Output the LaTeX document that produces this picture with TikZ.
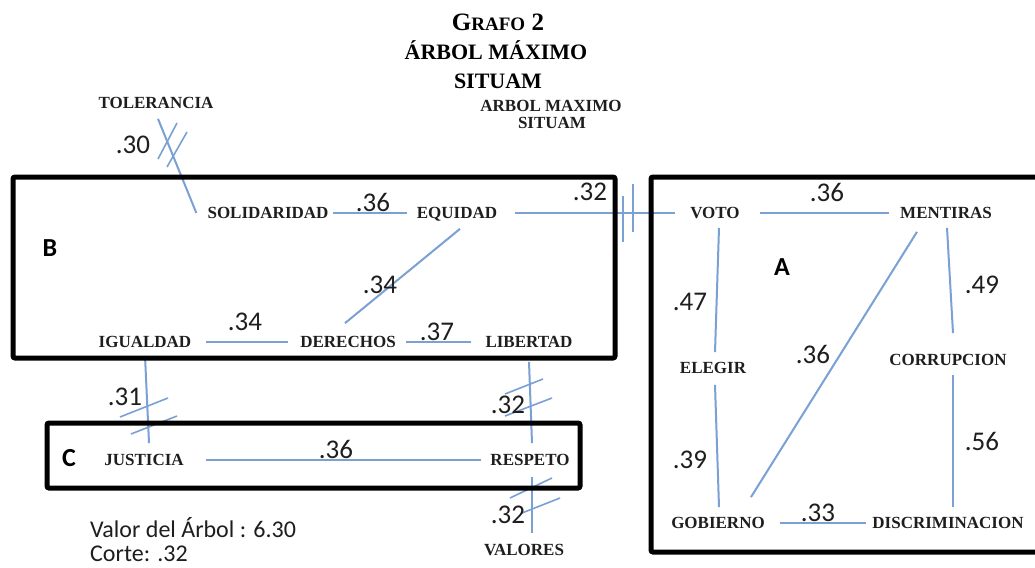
\documentclass[tikz,border=0pt]{standalone}
\usepackage{fontspec}
\setmainfont{Liberation Serif}
\newfontfamily\numfont{Carlito}
\usetikzlibrary{calc}
\definecolor{edgeblue}{RGB}{122,160,212}
\definecolor{inkgray}{RGB}{30,30,30}
\tikzset{
  lbl/.style={font=\bfseries\fontsize{17}{17}\selectfont, inner sep=0pt, text height=11.3pt, text depth=0pt, text=inkgray},
  wt/.style={font=\numfont\fontsize{27}{27}\selectfont, inner sep=0pt, text height=17pt, text depth=0pt, text=inkgray},
  grp/.style={font=\numfont\bfseries\fontsize{26}{26}\selectfont, inner sep=0pt, text height=16.7pt, text depth=0pt},
  note/.style={font=\numfont\fontsize{24}{24}\selectfont, inner sep=0pt, anchor=base west, text=inkgray},
  ttl/.style={font=\bfseries\fontsize{22}{22}\selectfont, inner sep=0pt, text height=14.6pt, text depth=0pt},
  link/.style={draw=edgeblue, line width=2pt},
  hashmark/.style={draw=edgeblue, line width=1.6pt},
  frame/.style={draw=black, line width=5pt, rounded corners=2pt},
}
\begin{document}
\begin{tikzpicture}[x=1pt,y=-1pt]
\useasboundingbox (0,0) rectangle (1035,567);
\clip (0,0) rectangle (1035,567);
\fill[white] (0,0) rectangle (1035,567);

% titles
\node[ttl, text height=16.5pt] (t1) at (498,22) {\fontsize{25}{25}\selectfont G\fontsize{19}{19}\selectfont RAFO\fontsize{25}{25}\selectfont{} 2};
\node[ttl] (t2) at (496,52) {ÁRBOL MÁXIMO};
\node[ttl] (t3) at (498,81) {SITUAM};
\node[lbl] (t4) at (551,106) {ARBOL MAXIMO};
\node[lbl] (t5) at (552,123) {SITUAM};

% nodes
\node[lbl] (tol) at (156,103) {TOLERANCIA};
\node[lbl] (sol) at (268,213) {SOLIDARIDAD};
\node[lbl] (equ) at (457,213) {EQUIDAD};
\node[lbl] (igu) at (145,342) {IGUALDAD};
\node[lbl] (der) at (348,342) {DERECHOS};
\node[lbl] (lib) at (529,342) {LIBERTAD};
\node[lbl] (jus) at (144,460) {JUSTICIA};
\node[lbl] (res) at (530,460) {RESPETO};
\node[lbl] (val) at (524,550) {VALORES};
\node[lbl] (voto) at (715,213) {VOTO};
\node[lbl] (men) at (946,213) {MENTIRAS};
\node[lbl] (ele) at (713,368) {ELEGIR};
\node[lbl] (cor) at (948,360) {CORRUPCION};
\node[lbl] (gob) at (718,523) {GOBIERNO};
\node[lbl] (dis) at (948,523) {DISCRIMINACION};

% connectors
\draw[link] ($(tol.south)+(2,10)$) -- ($(sol.west)+(-11,0)$);
\draw[link, shorten <=4pt, shorten >=10pt] (sol.east) -- (equ.west);
\draw[link, shorten <=18pt, shorten >=15pt] (equ.east) -- (voto.west);
\draw[link, shorten <=20pt, shorten >=11pt] (voto.east) -- (men.west);
\draw[link] ($(equ.south)+(3,10)$) -- ($(der.north)+(-3,-13)$);
\draw[link, shorten <=15pt, shorten >=12pt] (igu.east) -- (der.west);
\draw[link, shorten <=10pt, shorten >=14pt] (der.east) -- (lib.west);
\draw[link, shorten <=22pt, shorten >=9pt] (jus.east) -- (res.west);
\draw[link] ($(igu.south)+(0,8)$) -- ($(jus.north)+(5,-11)$);
\draw[link] ($(lib.south)+(0,14)$) -- ($(res.north)+(2,-11)$);
\draw[link] ($(res.south)+(2,11)$) -- ($(val.north)+(8,-11)$);
\draw[link] ($(voto.south)+(4,9)$) -- ($(ele.north)+(2,-10)$);
\draw[link] ($(ele.south)+(2,11)$) -- ($(gob.north)+(1,-10)$);
\draw[link] ($(men.south)+(1,9)$) -- ($(cor.north)+(5,-21)$);
\draw[link] ($(cor.south)+(5,9)$) -- ($(dis.north)+(5,-10)$);
\draw[link] ($(men.south west)+(17,13)$) -- ($(gob.north east)+(-14,-20)$);
\draw[link, shorten <=15pt, shorten >=6pt] (gob.east) -- (dis.west);

% cut marks
\draw[hashmark] (158,159) -- (177,123);
\draw[hashmark] (167,167) -- (187,132);
\draw[hashmark] (623,196) -- (623,242);
\draw[hashmark] (633,184) -- (633,232);
\draw[hashmark] (120,417) -- (168,398);
\draw[hashmark] (131,434) -- (177,416);
\draw[hashmark] (505,394) -- (543,379);
\draw[hashmark] (505,416) -- (552,398);
\draw[hashmark] (510,498) -- (552,478);
\draw[hashmark] (522,513) -- (560,498);

% weights
\node[wt] (w1) at (133,145) {.30};
\node[wt] (w2) at (373,203) {.36};
\node[wt] (w3) at (590,192) {.32};
\node[wt] (w4) at (827,193) {.36};
\node[wt] (w5) at (380,285) {.34};
\node[wt] (w6) at (245,322) {.34};
\node[wt] (w7) at (437,332) {.37};
\node[wt] (w8) at (125,397) {.31};
\node[wt] (w9) at (508,405) {.32};
\node[wt] (w10) at (336,450) {.36};
\node[wt] (w11) at (508,515) {.32};
\node[wt] (w12) at (690,302) {.47};
\node[wt] (w13) at (690,460) {.39};
\node[wt] (w14) at (813,355) {.36};
\node[wt] (w15) at (982,285) {.49};
\node[wt] (w16) at (982,442) {.56};
\node[wt] (w17) at (818,513) {.33};

% group frames and letters
\draw[frame] (13,177) rectangle (615,358);
\draw[frame] (651,177) rectangle (1045,552);
\draw[frame] (47,423) rectangle (580,488);
\node[grp] (gB) at (50,248) {B};
\node[grp] (gA) at (782,267) {A};
\node[grp] (gC) at (69,458) {C};

% notes
\node[note] (n1) at (90,537) {Valor del Árbol : 6.30};
\node[note] (n2) at (90,561) {Corte: .32};
\end{tikzpicture}
\end{document}
